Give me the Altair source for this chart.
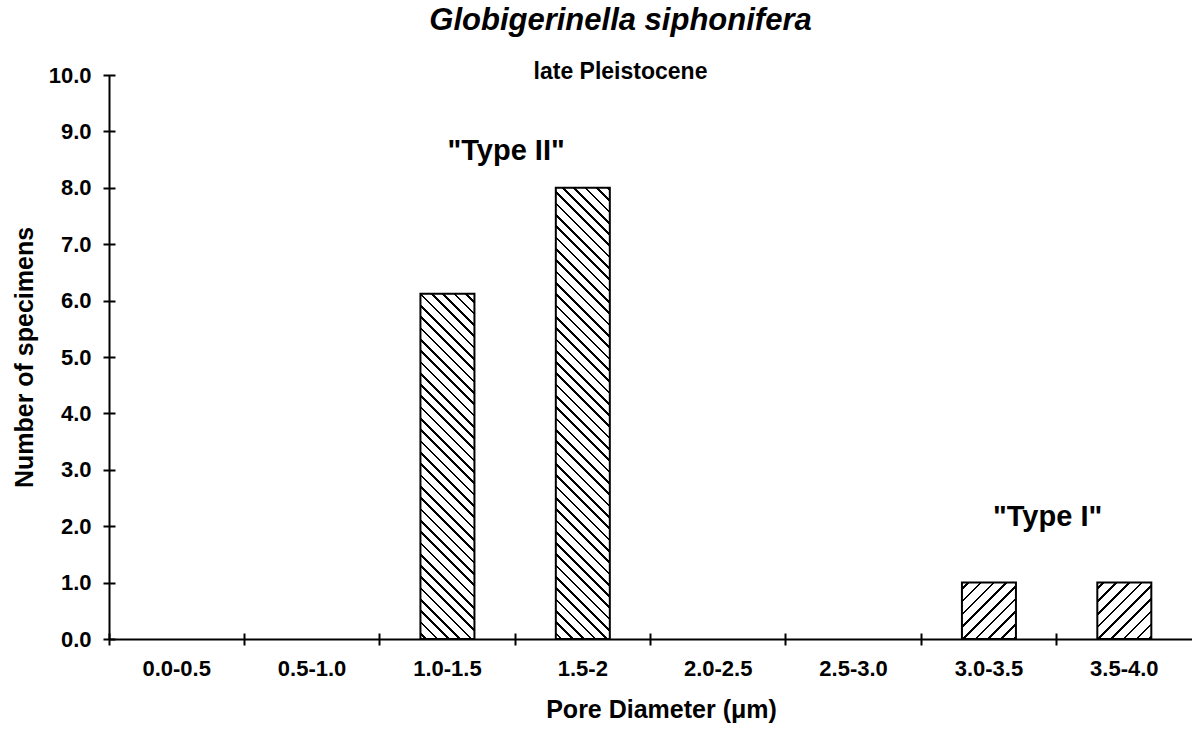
import math
import altair as alt
import pandas as pd

# ---- data ----
CATS = ["0.0-0.5", "0.5-1.0", "1.0-1.5", "1.5-2", "2.0-2.5", "2.5-3.0", "3.0-3.5", "3.5-4.0"]
COUNTS = [0, 0, 6.12, 8.0, 0, 0, 1.0, 1.0]
HATCH = ["", "", "back", "back", "", "", "fwd", "fwd"]
Y_TICKS = [0, 1, 2, 3, 4, 5, 6, 7, 8, 9, 10]
ANN_TEXT = ['"Type II"', '"Type I"']
ANN_CAT = ["1.5-2", "3.5-4.0"]
ANN_Y = [8.5, 2.0]

TITLE = "Globigerinella siphonifera"
SUBTITLE = "late Pleistocene"
X_TITLE = "Pore Diameter (\u03bcm)"
Y_TITLE = "Number of specimens"

# ---- layout ----
W, H = 1083, 564
Y_MAX = 10
BAR_W = 54
FONT = "Liberation Sans"

bars = pd.DataFrame({"cat": CATS, "count": COUNTS, "hatch": HATCH})
ann = pd.DataFrame({"text": ANN_TEXT, "cat": ANN_CAT, "y": ANN_Y})


def hatch_gradient(value, kind, spacing, lw=1.9):
    """Striped linear gradient that imitates a 45 degree hatch on a bar."""
    w = BAR_W
    h = value * H / Y_MAX
    c = (w + h) / (w * w + h * h)
    if kind == "back":
        x1, y1, x2, y2 = 0, 1, c * w, 1 - c * h
    else:
        x1, y1, x2, y2 = 0, 0, c * w, c * h
    period = spacing * math.sqrt(2) / (w + h)
    f = lw / spacing
    stops = [alt.GradientStop(color="white", offset=0)]
    k = 0
    while True:
        a = k * period + period * (0.5 - f / 2)
        b = k * period + period * (0.5 + f / 2)
        if a >= 1:
            break
        b = min(b, 1)
        stops += [
            alt.GradientStop(color="white", offset=a),
            alt.GradientStop(color="black", offset=a),
            alt.GradientStop(color="black", offset=b),
            alt.GradientStop(color="white", offset=b),
        ]
        k += 1
    stops.append(alt.GradientStop(color="white", offset=1))
    return alt.LinearGradient(gradient="linear", stops=stops, x1=x1, y1=y1, x2=x2, y2=y2)


xscale = alt.Scale(type="band", domain=CATS, paddingInner=0, paddingOuter=0)
yscale = alt.Scale(domain=[0, Y_MAX], nice=False, zero=True)

main_x_axis = alt.Axis(
    orient="bottom", ticks=False, domain=True, domainColor="black", domainWidth=2,
    labelFont=FONT, labelFontSize=22, labelFontWeight="bold", labelColor="black",
    labelPadding=19, labelAngle=0, grid=False,
    title=X_TITLE, titleFont=FONT, titleFontSize=25, titleFontWeight="bold",
    titleColor="black", titleX=552, titleY=78, titleBaseline="alphabetic", titleAlign="center",
)
main_y_axis = alt.Axis(
    orient="left", ticks=False, domain=True, domainColor="black", domainWidth=2,
    values=Y_TICKS, format=".1f",
    labelFont=FONT, labelFontSize=22, labelFontWeight="bold", labelColor="black",
    labelPadding=18, grid=False,
    title=Y_TITLE, titleFont=FONT, titleFontSize=25, titleFontWeight="bold",
    titleColor="black", titlePadding=11,
)
tick_x_axis = alt.Axis(
    orient="bottom", bandPosition=0, offset=-6, tickSize=12, tickWidth=2, tickColor="black",
    domain=False, labels=False, title=None, grid=False,
)
tick_y_axis = alt.Axis(
    orient="left", offset=-6, tickSize=12, tickWidth=2, tickColor="black",
    values=Y_TICKS, domain=False, labels=False, title=None, grid=False,
)

layers = []
first = True
for cat, cnt, kind in zip(CATS, COUNTS, HATCH):
    if cnt <= 0:
        continue
    spacing = 8.0 if kind == "back" else 9.0
    layer = (
        alt.Chart(bars)
        .transform_filter(alt.datum.cat == cat)
        .mark_bar(size=BAR_W, fill=hatch_gradient(cnt, kind, spacing), stroke="black", strokeWidth=2)
        .encode(
            x=alt.X("cat:N", sort=CATS, scale=xscale, axis=main_x_axis if first else None),
            y=alt.Y("count:Q", scale=yscale, axis=main_y_axis if first else None),
        )
    )
    first = False
    layers.append(layer)

text_layer = (
    alt.Chart(ann)
    .mark_text(font=FONT, fontSize=29, fontWeight="bold", color="black",
               align="center", baseline="alphabetic", dx=-9)
    .encode(
        x=alt.X("cat:N", sort=CATS, bandPosition=0, scale=xscale, axis=tick_x_axis),
        y=alt.Y("y:Q", scale=yscale, axis=tick_y_axis),
        text="text:N",
    )
)
layers.append(text_layer)

chart = (
    alt.layer(*layers)
    .resolve_axis(x="independent", y="independent")
    .properties(
        width=W,
        height=H,
        autosize=alt.AutoSizeParams(type="none"),
        padding={"left": 109, "top": 75, "right": 0, "bottom": 90},
        background="white",
        title=alt.TitleParams(
            text=TITLE, subtitle=SUBTITLE,
            font=FONT, fontSize=31, fontWeight="bold", fontStyle="italic", color="black",
            subtitleFont=FONT, subtitleFontSize=23, subtitleFontWeight="bold", subtitleColor="black",
            anchor="middle", frame="group", dx=-30, offset=-21, subtitlePadding=24,
        ),
    )
    .configure_view(stroke=None)
)

chart.save("out.html", embed_options={"renderer": "svg", "actions": False})
